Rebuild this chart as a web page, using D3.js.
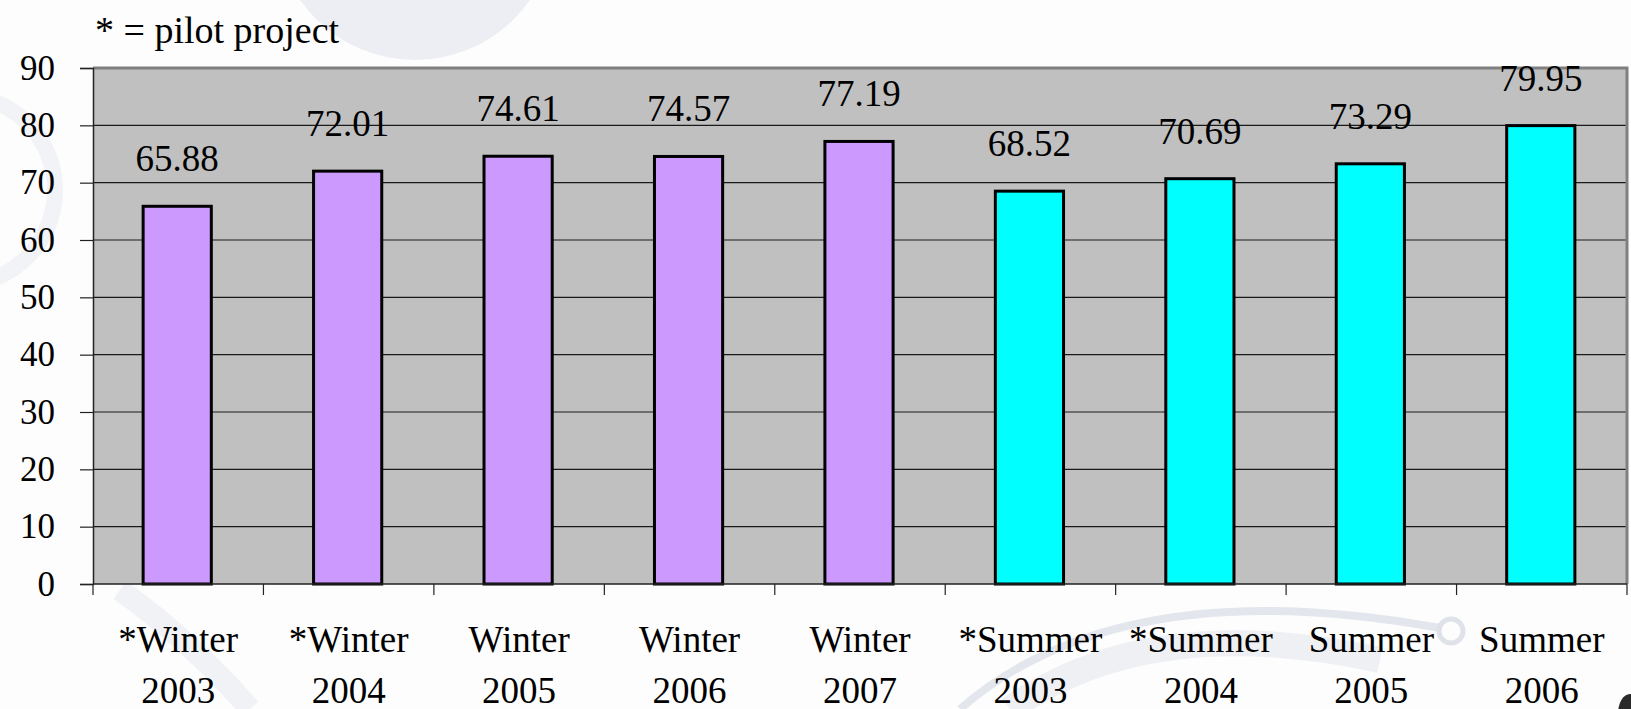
<!DOCTYPE html>
<html>
<head>
<meta charset="utf-8">
<script src="https://cdn.jsdelivr.net/npm/d3@7"></script>
</head>
<body style="margin:0; background:#fdfdfd">
<svg id="figure" width="1631" height="709" style="display:block"></svg>
<script>
// Rates per season; "*" marks the pilot-project seasons
const categories = ["*Winter|2003", "*Winter|2004", "Winter|2005", "Winter|2006", "Winter|2007",
                    "*Summer|2003", "*Summer|2004", "Summer|2005", "Summer|2006"];
const values = [65.88, 72.01, 74.61, 74.57, 77.19, 68.52, 70.69, 73.29, 79.95];
const seasons = ["winter", "winter", "winter", "winter", "winter", "summer", "summer", "summer", "summer"];
const yTicks = [0, 10, 20, 30, 40, 50, 60, 70, 80, 90];
const noteText = "* = pilot project";

const seasonColor = { winter: "#cc99ff", summer: "#00ffff" };
const FONT = "Liberation Serif";

// Serif text helper
function serif(sel, size) {
  return sel.style("font-family", FONT)
            .style("font-size", size + "px")
            .style("fill", "#000");
}

const svg = d3.select("#figure");
const plot = { left: 93, right: 1627, top: 68, bottom: 584 };

// Soft decorative backdrop shapes
const deco = svg.append("g").attr("class", "backdrop");
deco.append("rect").attr("width", 1631).attr("height", 709).attr("fill", "#fdfdfd");
deco.append("circle").attr("cx", 415).attr("cy", -80).attr("r", 140).attr("fill", "#eceef3");
deco.append("circle").attr("cx", -40).attr("cy", 190).attr("r", 95)
  .attr("fill", "none").attr("stroke", "#f2f3f6").attr("stroke-width", 16);
deco.append("path")
  .attr("d", "M 120 590 Q 190 640 250 709")
  .attr("fill", "none").attr("stroke", "#f0f2f5").attr("stroke-width", 22);
deco.append("path")
  .attr("d", "M 960 709 Q 1120 570 1440 628")
  .attr("fill", "none").attr("stroke", "#e3e6ec").attr("stroke-width", 8);
deco.append("path")
  .attr("d", "M 1010 709 Q 1150 610 1380 660")
  .attr("fill", "none").attr("stroke", "#eef0f4").attr("stroke-width", 26);
deco.append("circle").attr("cx", 1451).attr("cy", 631).attr("r", 12)
  .attr("fill", "none").attr("stroke", "#dfe2e8").attr("stroke-width", 5);
deco.append("ellipse").attr("cx", 1630).attr("cy", 714).attr("rx", 12).attr("ry", 20).attr("fill", "#2a2a2a");

const x = d3.scaleBand()
  .domain(categories)
  .range([plot.left, plot.right])
  .paddingInner(0.6)
  .paddingOuter(0.3);

const y = d3.scaleLinear().domain([0, 90]).range([plot.bottom, plot.top]);

// Plot area
svg.append("rect")
  .attr("x", plot.left).attr("y", plot.top)
  .attr("width", plot.right - plot.left).attr("height", plot.bottom - plot.top)
  .attr("fill", "#c0c0c0");

// Gridlines
svg.append("g")
  .selectAll("line")
  .data(yTicks.filter(t => t > 0 && t < 90))
  .join("line")
  .attr("x1", plot.left).attr("x2", plot.right)
  .attr("y1", d => y(d)).attr("y2", d => y(d))
  .attr("stroke", "#1a1a1a").attr("stroke-width", 1.2);

// Plot frame (top and right)
svg.append("path")
  .attr("d", `M${plot.left},${plot.top} H${plot.right} V${plot.bottom}`)
  .attr("fill", "none").attr("stroke", "#808080").attr("stroke-width", 3);

// Bars
svg.append("g")
  .selectAll("rect")
  .data(values)
  .join("rect")
  .attr("x", (d, i) => x(categories[i]) - 1)
  .attr("y", d => y(d))
  .attr("width", x.bandwidth())
  .attr("height", d => y(0) - y(d))
  .attr("fill", (d, i) => seasonColor[seasons[i]])
  .attr("stroke", "#000").attr("stroke-width", 3);

// Value labels
serif(svg.append("g")
  .selectAll("text")
  .data(values)
  .join("text")
  .attr("x", (d, i) => x(categories[i]) + x.bandwidth() / 2 - 1)
  .attr("y", d => y(d) - 35)
  .attr("text-anchor", "middle")
  .text(d => d.toFixed(2)), 37);

// Y axis
const yAxis = d3.axisLeft(y).tickValues(yTicks).tickSize(13).tickPadding(25).tickFormat(d3.format("d"));
const gy = svg.append("g").attr("transform", `translate(${plot.left},0)`).call(yAxis);
gy.attr("font-family", FONT).attr("font-size", 35);
gy.select(".domain").attr("stroke", "#222").attr("stroke-width", 1.5);
gy.selectAll(".tick line").attr("stroke", "#222").attr("stroke-width", 1.2);
serif(gy.selectAll(".tick text"), 35);

// X axis baseline and category dividers
const step = x.step();
const boundaries = d3.range(categories.length + 1).map(i => plot.left + i * step);
svg.append("line")
  .attr("x1", plot.left).attr("x2", plot.right)
  .attr("y1", plot.bottom).attr("y2", plot.bottom)
  .attr("stroke", "#222").attr("stroke-width", 1.5);
svg.append("g")
  .selectAll("line")
  .data(boundaries)
  .join("line")
  .attr("x1", d => d).attr("x2", d => d)
  .attr("y1", plot.bottom).attr("y2", plot.bottom + 11)
  .attr("stroke", "#222").attr("stroke-width", 1.2);

// Category labels, two lines each
const xl = serif(svg.append("g")
  .selectAll("text")
  .data(categories)
  .join("text")
  .attr("text-anchor", "middle"), 37);
xl.each(function(d) {
  const parts = d.split("|");
  const cx = x(d) + x.bandwidth() / 2;
  const t = d3.select(this);
  t.append("tspan").attr("x", cx).attr("y", 652).text(parts[0]);
  t.append("tspan").attr("x", cx).attr("y", 703).text(parts[1]);
});

// Note at top left
serif(svg.append("text")
  .attr("x", 95).attr("y", 43)
  .text(noteText), 38);
</script>
</body>
</html>
